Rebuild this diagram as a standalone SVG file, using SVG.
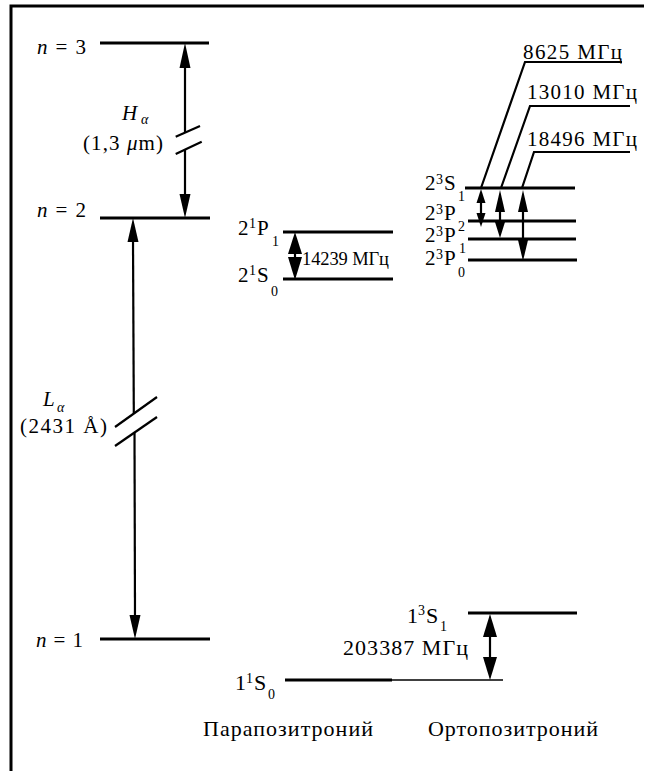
<svg xmlns="http://www.w3.org/2000/svg" width="647" height="771" viewBox="0 0 647 771" font-family="Liberation Serif, serif">
<style>
.t { font-size: 21px; fill: #000; }
.b { font-size: 22px; }
.m { font-size: 18.5px; }
.i { font-style: italic; }
.s { font-size: 14px; }
.lv { stroke: #000; stroke-width: 3; fill: none; }
.ln { stroke: #000; stroke-width: 2.2; fill: none; }
.thin { stroke: #000; stroke-width: 1.5; fill: none; }
.hd { fill: #000; stroke: none; }
.fr { stroke: #000; stroke-width: 3; fill: none; }
</style>
<rect width="647" height="771" fill="#fff"/>
<g id="frame">
  <polyline class="fr" points="11,771 11,6 644,6"/>
</g>

<g id="hydrogen">
  <g id="n3">
    <line class="lv" x1="100" y1="43" x2="209" y2="43"/>
    <text class="t" x="37" y="54" textLength="49"><tspan class="i">n</tspan> = 3</text>
  </g>
  <g id="n2">
    <line class="lv" x1="100" y1="218" x2="210" y2="218"/>
    <text class="t" x="37" y="217" textLength="49"><tspan class="i">n</tspan> = 2</text>
  </g>
  <g id="n1">
    <line class="lv" x1="100" y1="639" x2="210" y2="639"/>
    <text class="t" x="36" y="647" textLength="47"><tspan class="i">n</tspan> = 1</text>
  </g>
  <g id="halpha-label">
    <text class="t i" x="122" y="120">H</text>
    <text class="t i s" x="141" y="124">α</text>
    <text class="t" x="83" y="150" textLength="80">(1,3 <tspan class="i">μ</tspan>m)</text>
  </g>
  <g id="lalpha-label">
    <text class="t i" x="43" y="406">L</text>
    <text class="t i s" x="57" y="412">α</text>
    <text class="t" x="20" y="433" textLength="87">(2431 Å)</text>
  </g>
</g>

<g id="parapositronium">
  <g id="p21P1">
    <line class="lv" x1="283" y1="232" x2="393" y2="232"/>
    <text class="t"><tspan x="238" y="235">2</tspan><tspan class="s" x="249" y="228">1</tspan><tspan x="257" y="235">P</tspan><tspan class="s" x="272" y="246">1</tspan></text>
  </g>
  <g id="p21S0">
    <line class="lv" x1="283" y1="279" x2="393" y2="279"/>
    <text class="t"><tspan x="238" y="282">2</tspan><tspan class="s" x="249" y="275">1</tspan><tspan x="257" y="282">S</tspan><tspan class="s" x="271" y="296">0</tspan></text>
  </g>
  <g id="p11S0">
    <line class="lv" x1="285" y1="680" x2="392" y2="680"/>
    <text class="t b"><tspan x="235" y="690">1</tspan><tspan class="s" x="246" y="683">1</tspan><tspan x="254" y="690">S</tspan><tspan class="s" x="268" y="699">0</tspan></text>
  </g>
  <text class="t b" x="203" y="736" textLength="170">Парапозитроний</text>
</g>

<g id="orthopositronium">
  <g id="o23S1">
    <line class="lv" x1="465" y1="188" x2="575" y2="188"/>
    <text class="t"><tspan x="425" y="190">2</tspan><tspan class="s" x="436" y="184">3</tspan><tspan x="444" y="190">S</tspan><tspan class="s" x="458" y="201">1</tspan></text>
  </g>
  <g id="o23P2">
    <line class="lv" x1="468" y1="221" x2="576" y2="221"/>
    <text class="t"><tspan x="425" y="220">2</tspan><tspan class="s" x="436" y="214">3</tspan><tspan x="444" y="220">P</tspan><tspan class="s" x="458" y="231">2</tspan></text>
  </g>
  <g id="o23P1">
    <line class="lv" x1="468" y1="239" x2="576" y2="239"/>
    <text class="t"><tspan x="425" y="242">2</tspan><tspan class="s" x="436" y="236">3</tspan><tspan x="444" y="242">P</tspan><tspan class="s" x="459" y="253">1</tspan></text>
  </g>
  <g id="o23P0">
    <line class="lv" x1="468" y1="260" x2="577" y2="260"/>
    <text class="t"><tspan x="425" y="265">2</tspan><tspan class="s" x="436" y="259">3</tspan><tspan x="444" y="265">P</tspan><tspan class="s" x="458" y="277">0</tspan></text>
  </g>
  <g id="o13S1">
    <line class="lv" x1="468" y1="613" x2="577" y2="613"/>
    <text class="t b"><tspan x="407" y="623">1</tspan><tspan class="s" x="418" y="615">3</tspan><tspan x="426" y="623">S</tspan><tspan class="s" x="440" y="631">1</tspan></text>
  </g>
  <text class="t b" x="428" y="736" textLength="170">Ортопозитроний</text>
</g>

<g id="connectors">
  <line class="ln" x1="185" y1="66" x2="185" y2="133"/>
  <line class="ln" x1="185" y1="149" x2="185" y2="196"/>
  <line class="ln" x1="175.7" y1="136.7" x2="200" y2="126"/>
  <line class="ln" x1="175.7" y1="154" x2="201.7" y2="141.7"/>
  <polygon class="hd" points="185,43 179.5,68 190.5,68"/>
  <polygon class="hd" points="185,218 179.5,194 190.5,194"/>
  <line class="ln" x1="133" y1="240" x2="133.8" y2="413"/>
  <line class="ln" x1="134.5" y1="433" x2="135" y2="617"/>
  <line class="ln" x1="115" y1="427" x2="157" y2="397"/>
  <line class="ln" x1="115" y1="446" x2="157" y2="417"/>
  <polygon class="hd" points="133,218 127.5,242 138.5,242"/>
  <polygon class="hd" points="135,639 129.5,615 140.5,615"/>
  <line class="ln" x1="295" y1="252" x2="295" y2="259"/>
  <polygon class="hd" points="295,232 288,254 302,254"/>
  <polygon class="hd" points="295,280 288,257 302,257"/>
  <text class="t m" x="302" y="265" textLength="87">14239 МГц</text>
  <line class="ln" x1="481" y1="203" x2="481" y2="213"/>
  <polygon class="hd" points="481,189 476.5,203 485.5,203"/>
  <polygon class="hd" points="481,227 476.5,213 485.5,213"/>
  <line class="ln" x1="500" y1="212" x2="500" y2="222"/>
  <polygon class="hd" points="500,190 495,212 505,212"/>
  <polygon class="hd" points="500,238 495,222 505,222"/>
  <line class="ln" x1="523" y1="212" x2="523" y2="240"/>
  <polygon class="hd" points="523,190 518,212 528,212"/>
  <polygon class="hd" points="523,261 518,240 528,240"/>
  <polyline class="ln" points="481,188 525,62 622,62"/>
  <polyline class="ln" points="501,188 530,106 630,106"/>
  <polyline class="ln" points="522,188 534,152 630,152"/>
  <text class="t" x="523" y="59" textLength="99">8625 МГц</text>
  <text class="t" x="527" y="99" textLength="110">13010 МГц</text>
  <text class="t" x="527" y="146" textLength="110">18496 МГц</text>
  <line class="thin" x1="392" y1="680" x2="503" y2="680"/>
  <line class="ln" x1="490" y1="636" x2="490" y2="658"/>
  <polygon class="hd" points="490,614 483,637 497,637"/>
  <polygon class="hd" points="490,680 483,657 497,657"/>
  <text class="t b" x="343" y="655" textLength="125">203387 МГц</text>
</g>
</svg>
